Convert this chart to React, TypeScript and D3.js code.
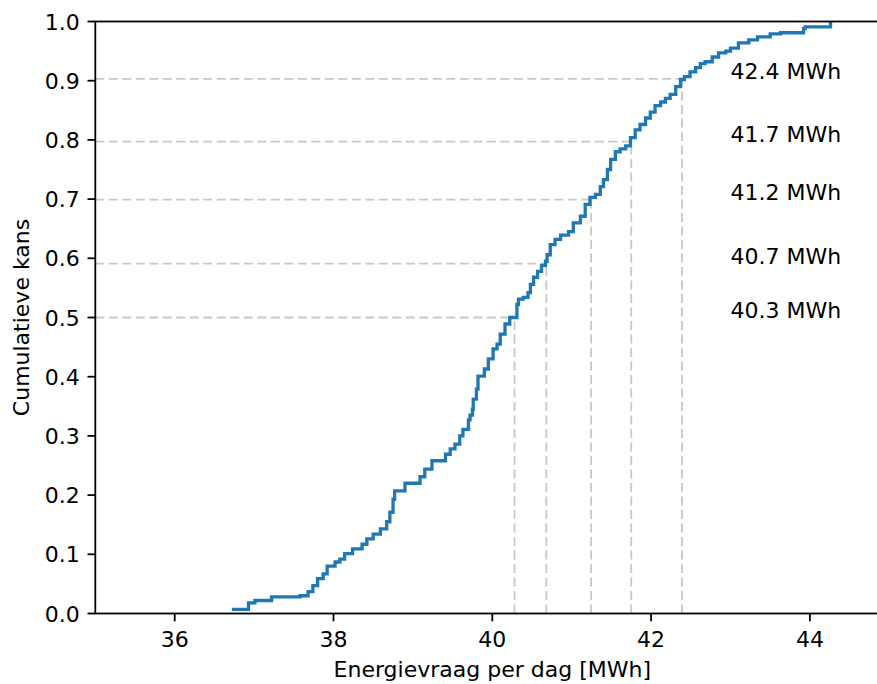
import React from "react";
import * as d3 from "d3";

// step points of the empirical CDF (energy at which the step occurs, new level)
const energy = [
  36.72, 36.93, 37.01, 37.22, 37.58, 37.68, 37.74, 37.8, 37.87, 37.92,
  38.02, 38.08, 38.14, 38.24, 38.36, 38.42, 38.5, 38.59, 38.67, 38.71,
  38.75, 38.77, 38.9, 39.09, 39.15, 39.24, 39.41, 39.47, 39.53, 39.59,
  39.63, 39.7, 39.72, 39.75, 39.76, 39.8, 39.82, 39.9, 39.95, 40.01,
  40.06, 40.1, 40.16, 40.22, 40.31, 40.33, 40.39, 40.45, 40.48, 40.52,
  40.57, 40.62, 40.67, 40.69, 40.73, 40.79, 40.86, 40.96, 41.02, 41.11,
  41.17, 41.23, 41.3, 41.36, 41.4, 41.45, 41.49, 41.55, 41.61, 41.68,
  41.74, 41.8, 41.86, 41.93, 41.99, 42.05, 42.12, 42.18, 42.24, 42.31,
  42.37, 42.42, 42.49, 42.56, 42.62, 42.68, 42.77, 42.85, 42.94, 43.0,
  43.1, 43.23, 43.34, 43.5, 43.63, 43.92, 43.94, 44.26,
];
const cumProb = [
  0.007, 0.018, 0.022, 0.028, 0.03, 0.037, 0.047, 0.059, 0.067, 0.08,
  0.087, 0.092, 0.101, 0.109, 0.117, 0.126, 0.134, 0.143, 0.155, 0.171,
  0.193, 0.207, 0.22, 0.231, 0.244, 0.258, 0.269, 0.278, 0.286, 0.3,
  0.311, 0.327, 0.335, 0.345, 0.362, 0.379, 0.401, 0.413, 0.43, 0.447,
  0.455, 0.472, 0.489, 0.5, 0.522, 0.531, 0.534, 0.542, 0.556, 0.568,
  0.578, 0.588, 0.595, 0.606, 0.623, 0.632, 0.639, 0.645, 0.66, 0.671,
  0.691, 0.703, 0.708, 0.721, 0.733, 0.75, 0.767, 0.78, 0.785, 0.79,
  0.804, 0.817, 0.826, 0.837, 0.847, 0.858, 0.864, 0.87, 0.877, 0.89,
  0.902, 0.907, 0.915, 0.922, 0.929, 0.932, 0.94, 0.947, 0.95, 0.955,
  0.964, 0.969, 0.974, 0.979, 0.981, 0.988, 0.991, 0.999,
];

const quantileProbs = [0.5, 0.591, 0.699, 0.797, 0.903];
const quantileValues = [40.28, 40.68, 41.245, 41.75, 42.39];
const quantileLabels = ["40.3 MWh", "40.7 MWh", "41.2 MWh", "41.7 MWh", "42.4 MWh"];
const labelX = 43;

const xTicks = [36, 38, 40, 42, 44];
const yTicks = [0, 0.1, 0.2, 0.3, 0.4, 0.5, 0.6, 0.7, 0.8, 0.9, 1.0];

const W = 877;
const H = 684;
const left = 95.3;
const right = 889.3;
const top = 21.5;
const bottom = 613.5;
const font = "DejaVu Sans, sans-serif";

export default function App() {
  const x = d3.scaleLinear().domain([35, 45]).range([left, right]);
  const y = d3.scaleLinear().domain([0, 1]).range([bottom, top]);

  const pts: [number, number][] = energy.map((e, i) => [e, cumProb[i]]);
  const line = d3
    .line<[number, number]>()
    .x((d) => x(d[0]))
    .y((d) => y(d[1]))
    .curve(d3.curveStepAfter);

  return (
    <div style={{ position: "absolute", left: 0, top: 0 }}>
      <svg width={W} height={H} style={{ display: "block", overflow: "hidden" }}>
        <rect width={W} height={H} fill="white" />
        {/* guide lines */}
        <g stroke="#c8c8c8" strokeWidth={1.8} strokeDasharray="9,4.5" fill="none">
          {quantileValues.map((q, i) => (
            <g key={"q" + i}>
              <line x1={x(35)} x2={x(q)} y1={y(quantileProbs[i])} y2={y(quantileProbs[i])} />
              <line x1={x(q)} x2={x(q)} y1={y(0)} y2={y(quantileProbs[i])} />
            </g>
          ))}
        </g>
        <path d={line(pts) || ""} fill="none" stroke="#1f77b4" strokeWidth={3.3} strokeLinejoin="miter" />
        {quantileLabels.map((t, i) => (
          <text key={"l" + i} x={x(labelX)} y={y(quantileProbs[i])} fontFamily={font} fontSize={22} fill="#000">
            {t}
          </text>
        ))}
        {/* spines */}
        <rect x={left} y={top} width={right - left} height={bottom - top} fill="none" stroke="#000" strokeWidth={1.8} />
        {/* x axis */}
        {xTicks.map((t) => (
          <g key={"xt" + t}>
            <line x1={x(t)} x2={x(t)} y1={bottom} y2={bottom + 7.8} stroke="#000" strokeWidth={1.8} />
            <text x={x(t)} y={647} textAnchor="middle" fontFamily={font} fontSize={22} fill="#000">
              {t}
            </text>
          </g>
        ))}
        {/* y axis */}
        {yTicks.map((t) => (
          <g key={"yt" + t}>
            <line x1={left - 7.8} x2={left} y1={y(t)} y2={y(t)} stroke="#000" strokeWidth={1.8} />
            <text x={left - 15.6} y={y(t) + 8} textAnchor="end" fontFamily={font} fontSize={22} fill="#000">
              {t.toFixed(1)}
            </text>
          </g>
        ))}
        <text x={(left + right) / 2} y={677} textAnchor="middle" fontFamily={font} fontSize={22} fill="#000">
          Energievraag per dag [MWh]
        </text>
        <text
          transform={`translate(29,${(top + bottom) / 2}) rotate(-90)`}
          textAnchor="middle"
          fontFamily={font}
          fontSize={22}
          fill="#000"
        >
          Cumulatieve kans
        </text>
      </svg>
    </div>
  );
}
